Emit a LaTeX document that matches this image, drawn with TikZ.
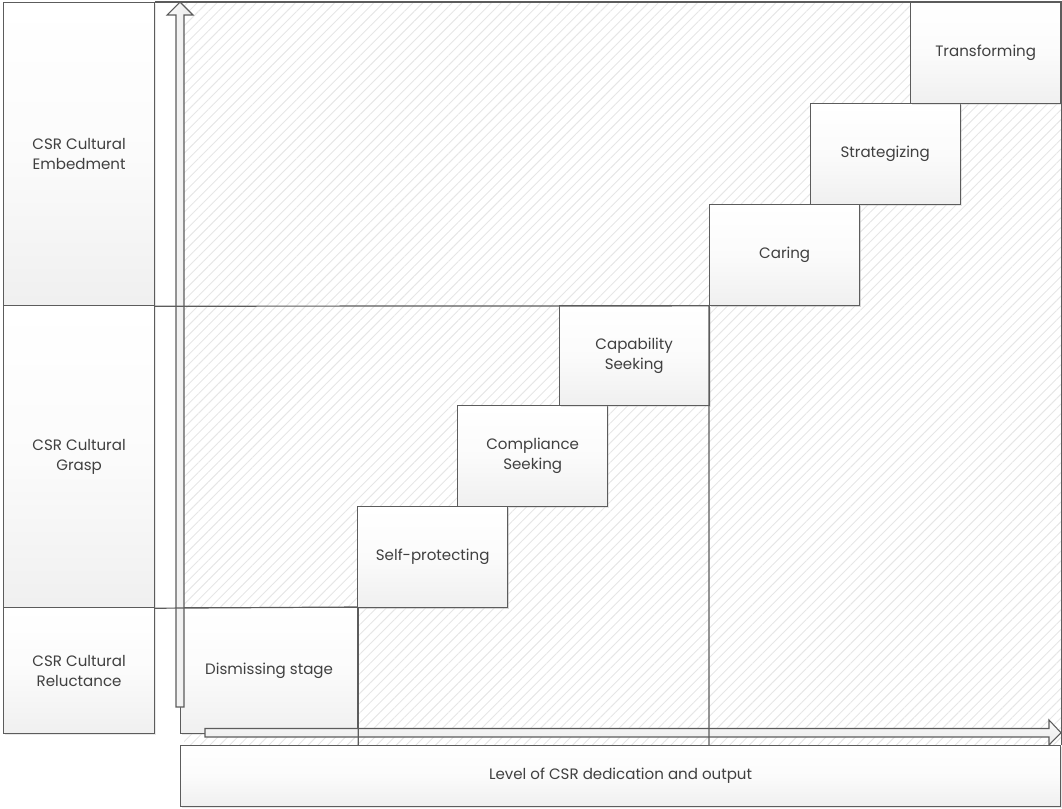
\documentclass[tikz,border=0pt]{standalone}
\usepackage{fontspec}
\setmainfont{Poppins}
\usetikzlibrary{patterns.meta,shadows}
\definecolor{edge}{HTML}{5C5C5C}
\definecolor{ink}{HTML}{404040}
\definecolor{hatch}{HTML}{E6E6E6}
\begin{document}
\begin{tikzpicture}[x=0.75pt,y=-0.75pt,
  box/.style={draw=edge, line width=0.9pt, top color=white, bottom color=black!6,
    middle color=black!1.5,
    text=ink, font=\fontsize{11.3}{15}\selectfont, align=center, inner sep=0pt,
    anchor=north west,
    drop shadow={shadow xshift=1.2pt, shadow yshift=-1.2pt, opacity=0.3, fill=black!30}},
  stagebox/.style={box, minimum width=112.6pt, minimum height=75.5pt},
  grid/.style={draw=edge, line width=0.9pt},
  blockarrow/.style={draw=edge, line width=0.8pt, left color=black!2, right color=black!8},
]
\useasboundingbox (0,0) rectangle (1062,808);

% hatched field
\fill[pattern={Lines[angle=45,distance=5.2pt,line width=0.7pt]}, pattern color=hatch]
  (184,2) rectangle (1061,745);

% row captions
\node[box, minimum width=113.25pt, minimum height=227.25pt] (emb) at (3,2) {CSR Cultural\\Embedment};
\node[box, minimum width=113.25pt, minimum height=226.5pt] (grasp) at (3,305) {CSR Cultural\\Grasp};
\node[box, minimum width=113.25pt, minimum height=94.5pt] (rel) at (3,607) {CSR Cultural\\Reluctance};

% first stage
\node[box, minimum width=132.75pt, minimum height=94.5pt] (dis) at (180,607) {Dismissing stage};

% axes as block arrows
\coordinate (ytail) at (180,707);
\coordinate (ytip) at (180,2);
\coordinate (xtail) at (205,732.75);
\coordinate (xtip) at (1061,732.75);
\path[blockarrow] (ytail) ++(-4,0) -- ++(0,-692) -- ++(-9,0) -- (ytip) -- ++(13,13) -- ++(-9,0) -- ++(0,692) -- cycle;
\path[blockarrow, top color=black!2, bottom color=black!8] (xtail) ++(0,-4.25) -- ++(844,0) -- ++(0,-8.5) -- (xtip) -- ++(-12,12.25) -- ++(0,-8) -- ++(-844,0) -- cycle;

% bottom caption
\node[box, minimum width=660pt, minimum height=45.75pt] (lvl) at (180,745) {Level of CSR dedication and output};

% stages
\node[stagebox] (sp)   at (357,506) {Self-protecting};
\node[stagebox] (cs)   at (457,405) {Compliance\\Seeking};
\node[stagebox] (caps) at (558.5,304.5) {Capability\\Seeking};
\node[stagebox] (car)  at (709,204) {Caring};
\node[stagebox] (str)  at (809.5,103) {Strategizing};
\node[stagebox] (tr)   at (910,2) {Transforming};

% band boundaries
\draw[grid] (emb.north east) -- (tr.north east) -- (tr.north east |- lvl.north);
\draw[grid] (emb.south east) -- (car.south west) -- (car.south west |- lvl.north);
\draw[grid] (grasp.south east) -- (dis.north east) -- (dis.north east |- lvl.north);

% stage boxes that sit on a boundary, drawn again over it
\node[stagebox] at (709,204) {Caring};
\node[stagebox] at (357,506) {Self-protecting};
\end{tikzpicture}
\end{document}
